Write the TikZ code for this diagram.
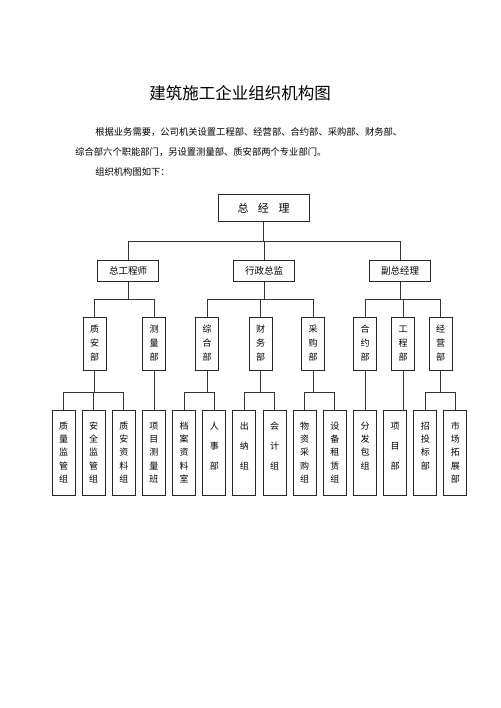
\documentclass[tikz,border=0pt]{standalone}
\usepackage{fontspec}
\setmainfont{Noto Sans CJK SC}

\newdimen\vgap
\def\vcolloop#1{\ifx#1\relax\else\hbox to 9pt{\hss\vrule height 7.8pt depth 1.2pt width 0pt#1\hss}\vskip\vgap\expandafter\vcolloop\fi}
\newcommand\vcol[3]{\vbox to #1{\offinterlineskip\vgap=#2\relax\expandafter\vcolloop#3\relax\vskip-\vgap\vfil}}

\begin{document}
\begin{tikzpicture}[x=1pt,y=-1pt,
box/.style={draw=black!85,line width=1pt,inner sep=0pt,align=center},
chief/.style={box,minimum width=91pt,minimum height=27pt,font=\fontsize{11}{13}\selectfont},
lead/.style={box,minimum width=61pt,minimum height=21pt,font=\fontsize{9.5}{11}\selectfont},
dept/.style={box,minimum width=23pt,minimum height=53pt,font=\fontsize{9}{11}\selectfont},
grp/.style={box,minimum width=23pt,minimum height=85pt,font=\fontsize{9}{11}\selectfont},
txt/.style={inner sep=0pt,anchor=west,font=\fontsize{9.3}{11}\selectfont},
link/.style={draw=black!80,line width=0.8pt},
semithick]

\useasboundingbox (0,0) rectangle (500,708);

\node[font=\fontsize{16.5}{18}\selectfont] (title) at (240,93) {建筑施工企业组织机构图};
\node[txt] (p1) at (95,132) {根据业务需要，公司机关设置工程部、经营部、合约部、采购部、财务部、};
\node[txt] (p2) at (75,152) {综合部六个职能部门，另设置测量部、质安部两个专业部门。};
\node[txt] (p3) at (95,172) {组织机构图如下：};

\node[chief] (gm) at (263.5,208.5) {总\hspace{9.5pt}经\hspace{9.5pt}理};

\node[lead] (ce) at (128,270.5) {总工程师};
\node[lead] (ad) at (264,270.5) {行政总监};
\node[lead] (vgm) at (400,270.5) {副总经理};

\foreach \n/\x/\t in {za/94.5/质安部, cl/154/测量部, zh/207/综合部, cw/260.5/财务部,
  cg/313/采购部, hy/365/合约部, gc/403/工程部, jy/440.5/经营部}
  \node[dept] (\n) at (\x,344) {\vcol{38pt}{5pt}{\t}};

\foreach \n/\g/\t [count=\i from 0] in {g1/4.3pt/质量监管组, g2/4.3pt/安全监管组, g3/4.3pt/质安资料组,
  g4/4.3pt/项目测量班, g5/4.3pt/档案资料室, g6/11pt/人事部, g7/11pt/出纳组, g8/11pt/会计组,
  g9/4.3pt/物资采购组, g10/4.3pt/设备租赁组, g11/4.3pt/分发包组, g12/11pt/项目部,
  g13/4.3pt/招投标部, g14/4.3pt/市场拓展部}
  \node[grp] (\n) at ({63.5+30.15*\i},452.5) {\vcol{62pt}{\g}{\t}};

\coordinate (b1) at (0,241);
\coordinate (b2) at (0,299);
\coordinate (b3) at (0,392);

\foreach \c in {ce,ad,vgm}
  \draw[link] (gm.south) |- (b1 -| \c) -- (\c.north);
\foreach \p/\c in {ce/za,ce/cl,ad/zh,ad/cw,ad/cg,vgm/hy,vgm/gc,vgm/jy}
  \draw[link] (\p.south) |- (b2 -| \c) -- (\c.north);
\foreach \p/\c in {za/g1,za/g2,za/g3,zh/g5,zh/g6,cw/g7,cw/g8,cg/g9,cg/g10,jy/g13,jy/g14}
  \draw[link] (\p.south) |- (b3 -| \c) -- (\c.north);
\foreach \p/\c in {cl/g4,hy/g11,gc/g12}
  \draw[link] (\p.south) -- (\p.south |- \c.north);
\end{tikzpicture}
\end{document}
